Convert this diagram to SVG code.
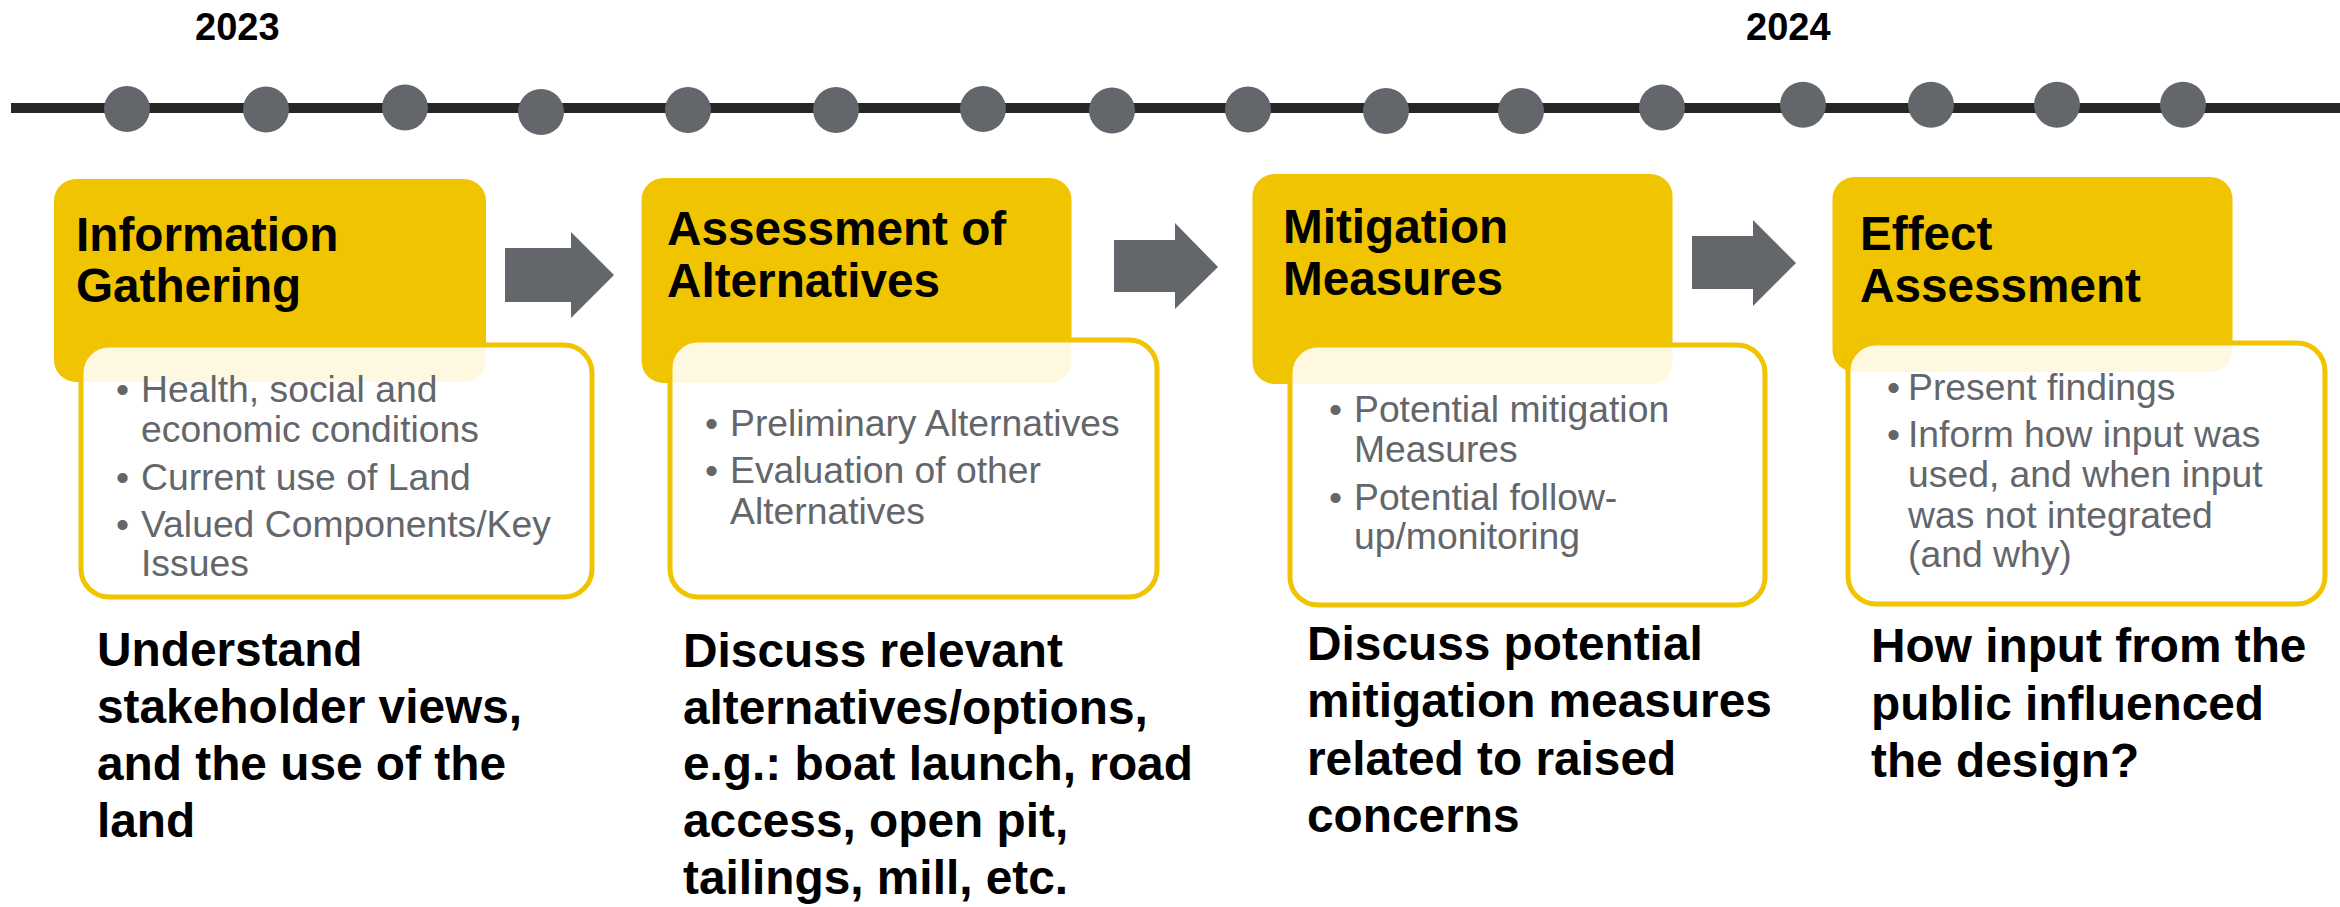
<svg xmlns="http://www.w3.org/2000/svg" width="2340" height="907" viewBox="0 0 2340 907">
<style>
.year{font-family:"Liberation Sans",Arial,sans-serif;font-weight:bold;font-size:38px;fill:#000}
.dot{fill:#63666A}
.head{fill:#F0C400}
.panel{fill:#FFFFFF;fill-opacity:0.88;stroke:#F0C400;stroke-width:5}
.title{font-family:"Liberation Sans",Arial,sans-serif;font-weight:bold;font-size:47.7px;fill:#000}
.bul{font-family:"Liberation Sans",Arial,sans-serif;font-size:37.3px;fill:#63666A}
.cap{font-family:"Liberation Sans",Arial,sans-serif;font-weight:bold;font-size:47.8px;fill:#000}
.arrow{fill:#63666A}
</style>
<rect x="0" y="0" width="2340" height="907" fill="#FFFFFF"/>
<g id="timeline">
<rect x="11" y="103" width="2329" height="10" fill="#262626"/>
<circle class="dot" cx="127" cy="109" r="23"/>
<circle class="dot" cx="266" cy="109.5" r="23"/>
<circle class="dot" cx="405" cy="107.5" r="23"/>
<circle class="dot" cx="541" cy="112" r="23"/>
<circle class="dot" cx="688" cy="110" r="23"/>
<circle class="dot" cx="836" cy="110" r="23"/>
<circle class="dot" cx="983" cy="109" r="23"/>
<circle class="dot" cx="1112" cy="110.5" r="23"/>
<circle class="dot" cx="1248" cy="109.5" r="23"/>
<circle class="dot" cx="1386" cy="111" r="23"/>
<circle class="dot" cx="1521" cy="111" r="23"/>
<circle class="dot" cx="1662" cy="107.5" r="23"/>
<circle class="dot" cx="1803" cy="104.7" r="23"/>
<circle class="dot" cx="1931" cy="104.7" r="23"/>
<circle class="dot" cx="2057" cy="104.7" r="23"/>
<circle class="dot" cx="2183" cy="104.7" r="23"/>
<text class="year" x="195" y="39.5">2023</text>
<text class="year" x="1746" y="39.5">2024</text>
</g>
<g id="connectors">
<path class="arrow" d="M505,248 L571,248 L571,232 L614,275 L571,318 L571,302 L505,302 Z"/>
<path class="arrow" d="M1114,240 L1175,240 L1175,223 L1218,267 L1175,309 L1175,292 L1114,292 Z"/>
<path class="arrow" d="M1692,236 L1753,236 L1753,220 L1796,263 L1753,306 L1753,289 L1692,289 Z"/>
</g>
<g id="stage-information-gathering">
<rect class="head" x="54" y="179" width="432" height="203" rx="22"/>
<rect class="panel" x="81" y="345" width="511" height="252" rx="28"/>
<text class="title" x="76" y="251">Information</text>
<text class="title" x="76" y="302">Gathering</text>
<text class="bul" x="116" y="402">•</text><text class="bul" x="141" y="402">Health, social and</text>
<text class="bul" x="141" y="442">economic conditions</text>
<text class="bul" x="116" y="490">•</text><text class="bul" x="141" y="490">Current use of Land</text>
<text class="bul" x="116" y="537">•</text><text class="bul" x="141" y="537">Valued Components/Key</text>
<text class="bul" x="141" y="576">Issues</text>
<text class="cap" x="97" y="666">Understand</text>
<text class="cap" x="97" y="723">stakeholder views,</text>
<text class="cap" x="97" y="780">and the use of the</text>
<text class="cap" x="97" y="837">land</text>
</g>
<g id="stage-assessment-of-alternatives">
<rect class="head" x="641.5" y="178" width="430" height="205" rx="22"/>
<rect class="panel" x="670" y="340" width="487" height="257" rx="28"/>
<text class="title" x="667" y="245">Assessment of</text>
<text class="title" x="667" y="297">Alternatives</text>
<text class="bul" x="705" y="436">•</text><text class="bul" x="730" y="436">Preliminary Alternatives</text>
<text class="bul" x="705" y="483">•</text><text class="bul" x="730" y="483">Evaluation of other</text>
<text class="bul" x="730" y="524">Alternatives</text>
<text class="cap" x="683" y="667">Discuss relevant</text>
<text class="cap" x="683" y="724">alternatives/options,</text>
<text class="cap" x="683" y="780">e.g.: boat launch, road</text>
<text class="cap" x="683" y="837">access, open pit,</text>
<text class="cap" x="683" y="894">tailings, mill, etc.</text>
</g>
<g id="stage-mitigation-measures">
<rect class="head" x="1252.5" y="174" width="420" height="210" rx="22"/>
<rect class="panel" x="1290" y="345" width="475" height="260" rx="28"/>
<text class="title" x="1283" y="243">Mitigation</text>
<text class="title" x="1283" y="295">Measures</text>
<text class="bul" x="1329" y="422">•</text><text class="bul" x="1354" y="422">Potential mitigation</text>
<text class="bul" x="1354" y="462">Measures</text>
<text class="bul" x="1329" y="510">•</text><text class="bul" x="1354" y="510">Potential follow-</text>
<text class="bul" x="1354" y="549">up/monitoring</text>
<text class="cap" x="1307" y="660">Discuss potential</text>
<text class="cap" x="1307" y="717">mitigation measures</text>
<text class="cap" x="1307" y="775">related to raised</text>
<text class="cap" x="1307" y="832">concerns</text>
</g>
<g id="stage-effect-assessment">
<rect class="head" x="1832.5" y="177" width="400" height="195" rx="22"/>
<rect class="panel" x="1848" y="343" width="477" height="261" rx="28"/>
<text class="title" x="1860" y="250">Effect</text>
<text class="title" x="1860" y="302">Assessment</text>
<text class="bul" x="1887" y="400">•</text><text class="bul" x="1908" y="400">Present findings</text>
<text class="bul" x="1887" y="447">•</text><text class="bul" x="1908" y="447">Inform how input was</text>
<text class="bul" x="1908" y="487">used, and when input</text>
<text class="bul" x="1908" y="528">was not integrated</text>
<text class="bul" x="1908" y="567">(and why)</text>
<text class="cap" x="1871" y="662">How input from the</text>
<text class="cap" x="1871" y="720">public influenced</text>
<text class="cap" x="1871" y="777">the design?</text>
</g>
</svg>
